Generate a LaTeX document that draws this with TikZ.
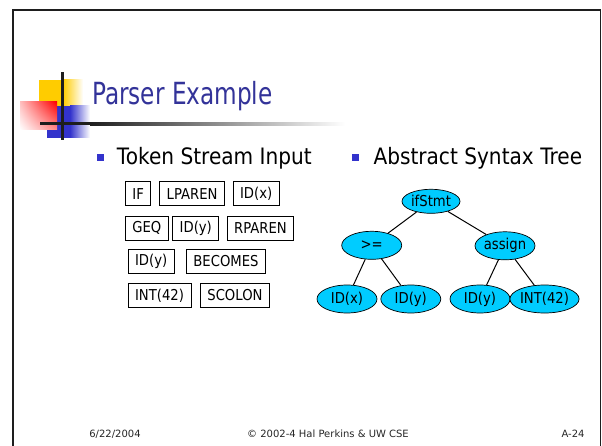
\documentclass[tikz,border=0pt]{standalone}
\usepackage{fontspec}
\setmainfont{DejaVu Sans}
\newfontfamily\titlefont{DejaVu Sans}[FakeStretch=0.76]
\newfontfamily\bodyfont{DejaVu Sans}[FakeStretch=0.89]
\newfontfamily\tokfont{DejaVu Sans}[FakeStretch=0.88]
\usetikzlibrary{shapes.geometric,shadings}
\definecolor{titleblue}{RGB}{51,51,153}
\definecolor{bulletblue}{RGB}{51,51,204}
\definecolor{nodecyan}{RGB}{0,204,255}
\definecolor{logoyellow}{RGB}{255,204,0}
\definecolor{logored}{RGB}{255,0,0}
\definecolor{logoblue}{RGB}{51,51,204}
\definecolor{barblack}{RGB}{30,30,30}
\begin{document}
\begin{tikzpicture}[x=1pt,y=-1pt,
  title/.style={anchor=base west,inner sep=0pt,text=titleblue,font=\titlefont\fontsize{30.5}{36}\selectfont},
  heading/.style={anchor=base west,inner sep=0pt,text=black,font=\bodyfont\fontsize{22.6}{27}\selectfont},
  bulletbox/.style={fill=bulletblue,inner sep=0pt,minimum size=7pt},
  token/.style={draw=black,line width=0.8pt,anchor=west,inner xsep=7pt,inner ysep=0pt,
    minimum height=24pt,font=\tokfont\fontsize{15}{18}\selectfont},
  treenode/.style={ellipse,draw=black,line width=0.7pt,fill=nodecyan,inner sep=0pt,
    minimum width=60pt,minimum height=28pt,font=\tokfont\fontsize{15}{18}\selectfont},
  edge/.style={draw=black,line width=1pt},
  footer/.style={anchor=base,inner sep=0pt,text=black!85,font=\fontsize{10}{12}\selectfont}]

\useasboundingbox (0,0) rectangle (602,446);
\fill[white] (0,0) rectangle (602,446);

% slide frame
\draw[line width=2.5pt,barblack] (13,446) -- (13,10) -- (601,10);
\draw[line width=1.5pt,barblack] (600.5,10) -- (600.5,446);

% title logo
\fill[logoyellow] (39,80) rectangle (63,107);
\shade[left color=logoyellow,right color=white] (63,80) rectangle (83,107);
\fill[logoblue] (47,106) rectangle (70,138);
\shade[left color=logoblue,right color=white] (70,106) rectangle (90,138);
\shade[upper right=logored,upper left=logored!25,lower right=logored!45,lower left=white]
  (20,102) rectangle (57,130);
\fill[barblack] (40,122.5) rectangle (90,125.5);
\shade[left color=barblack,right color=white] (90,122.5) rectangle (345,125.5);
\fill[barblack] (61,72) rectangle (64,140);

% title
\node[title] (ttl) at (92,105) {Parser Example};

% bullets and headings
\node[bulletbox] (b1) at (100.5,157.8) {};
\node[heading] (h1) at (116.7,165) {Token Stream Input};
\node[bulletbox] (b2) at (355,157.8) {};
\node[heading] (h2) at (373.3,165) {Abstract Syntax Tree};

% token stream
\node[token] (t1) at (125,193.7) {IF};
\node[token] (t2) at (159.3,193.7) {LPAREN};
\node[token] (t3) at (232.7,193.7) {ID(x)};
\node[token] (t4) at (125,228) {GEQ};
\node[token] (t5) at (172.3,228) {ID(y)};
\node[token] (t6) at (226.7,228) {RPAREN};
\node[token] (t7) at (127.7,261.3) {ID(y)};
\node[token] (t8) at (186,261.3) {BECOMES};
\node[token] (t9) at (127.7,295.3) {INT(42)};
\node[token] (t10) at (200,295.3) {SCOLON};

% abstract syntax tree
\node[treenode,minimum width=58pt,minimum height=24pt] (ifs) at (431,201.3) {ifStmt};
\node[treenode] (geq) at (371.7,245.3) {>=};
\node[treenode] (asg) at (505,245.8) {assign};
\node[treenode] (idx) at (347,299) {ID(x)};
\node[treenode] (idy) at (410.8,299) {ID(y)};
\node[treenode] (idy2) at (480,299) {ID(y)};
\node[treenode] (int) at (544.5,299) {INT(42)};

\draw[edge] (ifs) -- (geq);
\draw[edge] (ifs) -- (asg);
\draw[edge] (geq) -- (idx);
\draw[edge] (geq) -- (idy);
\draw[edge] (asg) -- (idy2);
\draw[edge] (asg) -- (int);

% footer
\node[footer] (date) at (115,437) {6/22/2004};
\node[footer] (copy) at (328,437) {© 2002-4 Hal Perkins \& UW CSE};
\node[footer] (page) at (573,437) {A-24};
\end{tikzpicture}
\end{document}
